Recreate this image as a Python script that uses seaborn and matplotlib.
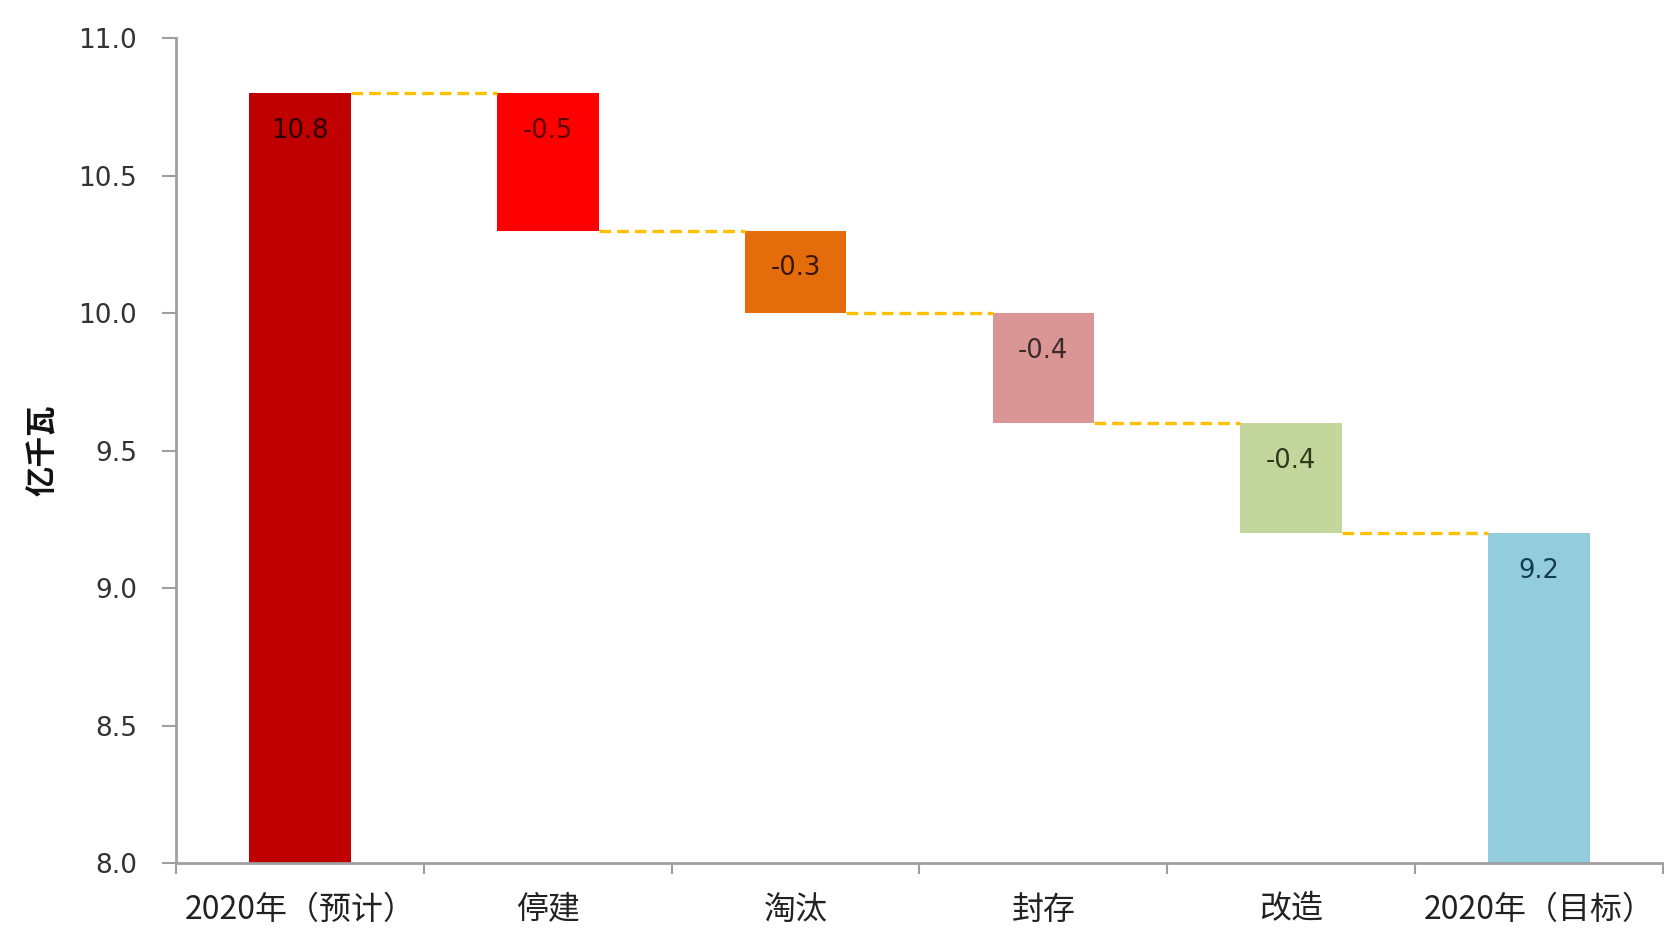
import matplotlib
matplotlib.use("Agg")
import matplotlib.pyplot as plt
import seaborn as sns
import numpy as np

# ---- data ----
categories = ["2020年（预计）", "停建", "淘汰", "封存", "改造", "2020年（目标）"]
changes = [10.8, -0.5, -0.3, -0.4, -0.4, 9.2]
is_total = [True, False, False, False, False, True]
label_texts = ["10.8", "-0.5", "-0.3", "-0.4", "-0.4", "9.2"]
bar_colors = ["#C00000", "#FF0000", "#E46C0A", "#D99694", "#C3D69B", "#93CDDD"]
label_colors = ["#2a0000", "#5a0000", "#3a1500", "#3a2a2a", "#2f3a1a", "#143c50"]
y_ticks = [8.0, 8.5, 9.0, 9.5, 10.0, 10.5, 11.0]
y_label = "亿千瓦"

# ---- waterfall geometry from data ----
tops, bottoms, levels = [], [], []
running = 0.0
for v, tot in zip(changes, is_total):
    if tot:
        running = v
        tops.append(v)
        bottoms.append(0.0)
    else:
        tops.append(running)
        bottoms.append(running + v)
        running = running + v
    levels.append(running)

sns.set_theme(style="white")
plt.rcParams["font.family"] = ["DejaVu Sans", "Noto Sans CJK SC"]

fig = plt.figure(figsize=(16.65, 9.32), dpi=100)
ax = fig.add_axes([0.1057, 0.074, 0.893, 0.885])

bar_w = 0.41
sns.barplot(x=categories, y=tops, hue=categories, palette=bar_colors,
            order=categories, hue_order=categories, width=bar_w,
            legend=False, saturation=1, ax=ax, linewidth=0)

patches = sorted(ax.patches, key=lambda p: p.get_x())
for p, b, t in zip(patches, bottoms, tops):
    p.set_y(b)
    p.set_height(t - b)

# connector lines
for i in range(len(categories) - 1):
    ax.hlines(levels[i], i + bar_w / 2, i + 1 - bar_w / 2,
              colors="#FFC000", linewidth=2.4, linestyles=(0, (3.5, 1.8)), zorder=3)

# labels inside bars near top
for i, (t, txt, c) in enumerate(zip(tops, label_texts, label_colors)):
    ax.annotate(txt, xy=(i, t), xytext=(0, -27), textcoords="offset points",
                ha="center", va="center", fontsize=18.5, color=c)

ax.set_ylim(8.0, 11.0)
ax.set_xlim(-0.5, len(categories) - 0.5)
ax.set_yticks(y_ticks)
ax.set_yticklabels([f"{t:.1f}" for t in y_ticks])
ax.set_xticks(np.arange(-0.5, len(categories), 1.0))
ax.set_xticklabels([])
ax.set_xticks(np.arange(len(categories)), minor=True)
ax.set_xticklabels(categories, minor=True, family=["Noto Sans CJK SC", "DejaVu Sans"])
ax.tick_params(axis="x", which="major", bottom=True, length=8, width=1.5,
               color="#a0a0a0", direction="out")
ax.tick_params(axis="x", which="minor", bottom=True, length=0, pad=22, labelsize=23,
               labelcolor="#222222")
ax.tick_params(axis="y", left=True, length=10, width=1.5, color="#a0a0a0", direction="out",
               pad=18, labelsize=19, labelcolor="#333333")
ax.set_xlabel("")
ax.set_ylabel(y_label, fontsize=22, fontweight="bold", color="#111111",
              family=["Noto Sans CJK SC", "DejaVu Sans"], labelpad=14)

for side in ["top", "right"]:
    ax.spines[side].set_visible(False)
for side in ["left", "bottom"]:
    ax.spines[side].set_color("#a0a0a0")
    ax.spines[side].set_linewidth(2)

fig.savefig("out.png", dpi=100, facecolor="white")
